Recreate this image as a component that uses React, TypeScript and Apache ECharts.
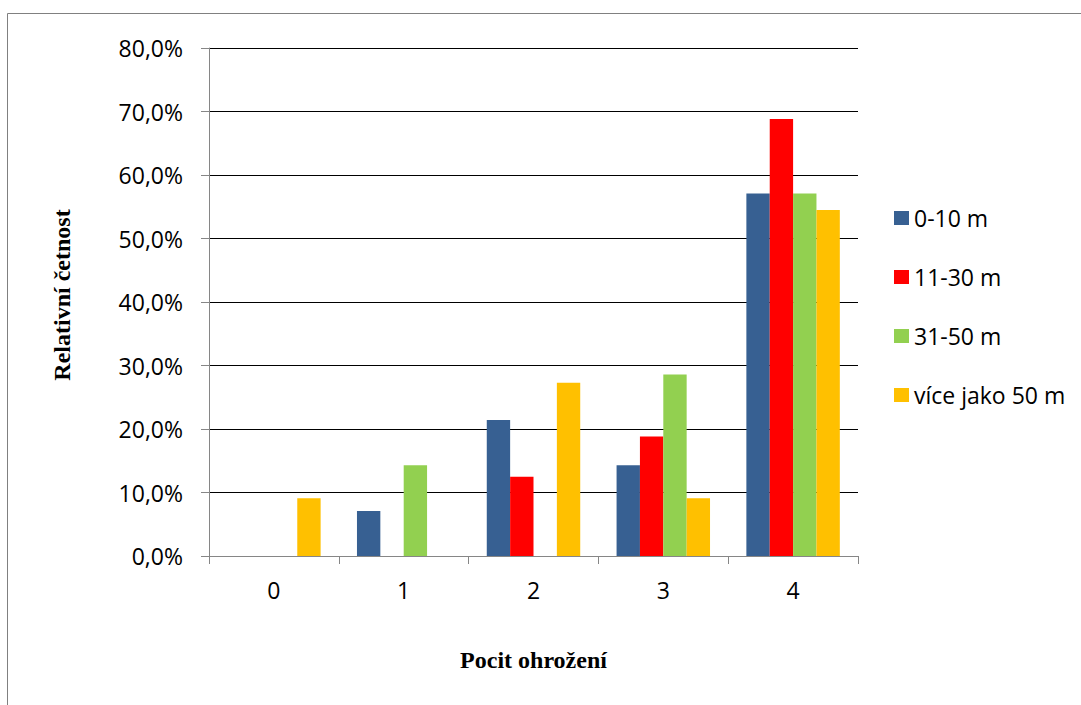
import React, { useEffect, useRef } from "react";
import * as echarts from "echarts";

// Categories on the x axis (perceived threat level)
const categories = ["0", "1", "2", "3", "4"];

// Series names (distance groups)
const seriesNames = ["0-10 m", "11-30 m", "31-50 m", "více jako 50 m"];

// Relative frequencies in percent, one array per distance group
const dist0to10 = [0, 7.1, 21.4, 14.3, 57.1];
const dist11to30 = [0, 0, 12.5, 18.8, 68.8];
const dist31to50 = [0, 14.3, 0, 28.6, 57.1];
const distOver50 = [9.1, 0, 27.3, 9.1, 54.5];

const seriesValues = [dist0to10, dist11to30, dist31to50, distOver50];
const seriesColors = ["#376092", "#FF0000", "#92D050", "#FFC000"];

// Value axis range (percent)
const yMin = 0;
const yMax = 80;
const yInterval = 10;

const labelFont = "'Open Sans', 'Liberation Sans', sans-serif";
const titleFont = "'Liberation Serif', 'DejaVu Serif', serif";

const formatPercent = (v: number) => v.toFixed(1).replace(".", ",") + "%";

export default function App() {
  const ref = useRef<HTMLDivElement>(null);

  useEffect(() => {
    if (!ref.current) return;
    const chart = echarts.init(ref.current, undefined, { renderer: "svg" });

    chart.setOption({
      animation: false,
      backgroundColor: "#ffffff",
      textStyle: { fontFamily: labelFont },
      graphic: [
        {
          type: "rect",
          shape: { x: 7.5, y: 13.5, width: 1200, height: 800 },
          style: { fill: "none", stroke: "#808080", lineWidth: 1 },
          silent: true,
        },
      ],
      grid: { left: 209, right: 223, top: 48, bottom: 149 },
      legend: {
        orient: "vertical",
        left: 894,
        top: 206,
        padding: 0,
        itemGap: 35,
        itemWidth: 15,
        itemHeight: 14,
        icon: "rect",
        data: seriesNames,
        textStyle: {
          fontFamily: labelFont,
          fontSize: 23,
          color: "#000",
          lineHeight: 24,
        },
      },
      xAxis: {
        type: "category",
        data: categories,
        name: "Pocit ohrožení",
        nameLocation: "middle",
        nameGap: 92,
        nameTextStyle: {
          fontFamily: titleFont,
          fontWeight: "bold",
          fontSize: 24,
          color: "#000",
        },
        axisLine: { show: true, lineStyle: { color: "#868686", width: 1 } },
        axisTick: { show: true, length: 8, lineStyle: { color: "#868686" } },
        axisLabel: {
          fontFamily: labelFont,
          fontSize: 23,
          color: "#000",
          margin: 22,
        },
      },
      yAxis: {
        type: "value",
        min: yMin,
        max: yMax,
        interval: yInterval,
        name: "Relativní četnost",
        nameLocation: "middle",
        nameGap: 135,
        nameTextStyle: {
          fontFamily: titleFont,
          fontWeight: "bold",
          fontSize: 24,
          color: "#000",
          padding: [0, 0, 0, 14],
        },
        axisLine: { show: true, lineStyle: { color: "#868686", width: 1 } },
        axisTick: { show: true, length: 8, lineStyle: { color: "#868686" } },
        axisLabel: {
          fontFamily: labelFont,
          fontSize: 23,
          color: "#000",
          margin: 26,
          formatter: (v: number) => formatPercent(v),
        },
        splitLine: { show: true, lineStyle: { color: "#000", width: 1 } },
      },
      series: seriesNames.map((name, i) => ({
        name,
        type: "bar",
        data: seriesValues[i],
        barGap: "0%",
        barCategoryGap: "28%",
        itemStyle: { color: seriesColors[i] },
      })),
    });

    return () => chart.dispose();
  }, []);

  return (
    <div
      ref={ref}
      style={{ position: "absolute", left: 0, top: 0, width: 1081, height: 705 }}
    />
  );
}
